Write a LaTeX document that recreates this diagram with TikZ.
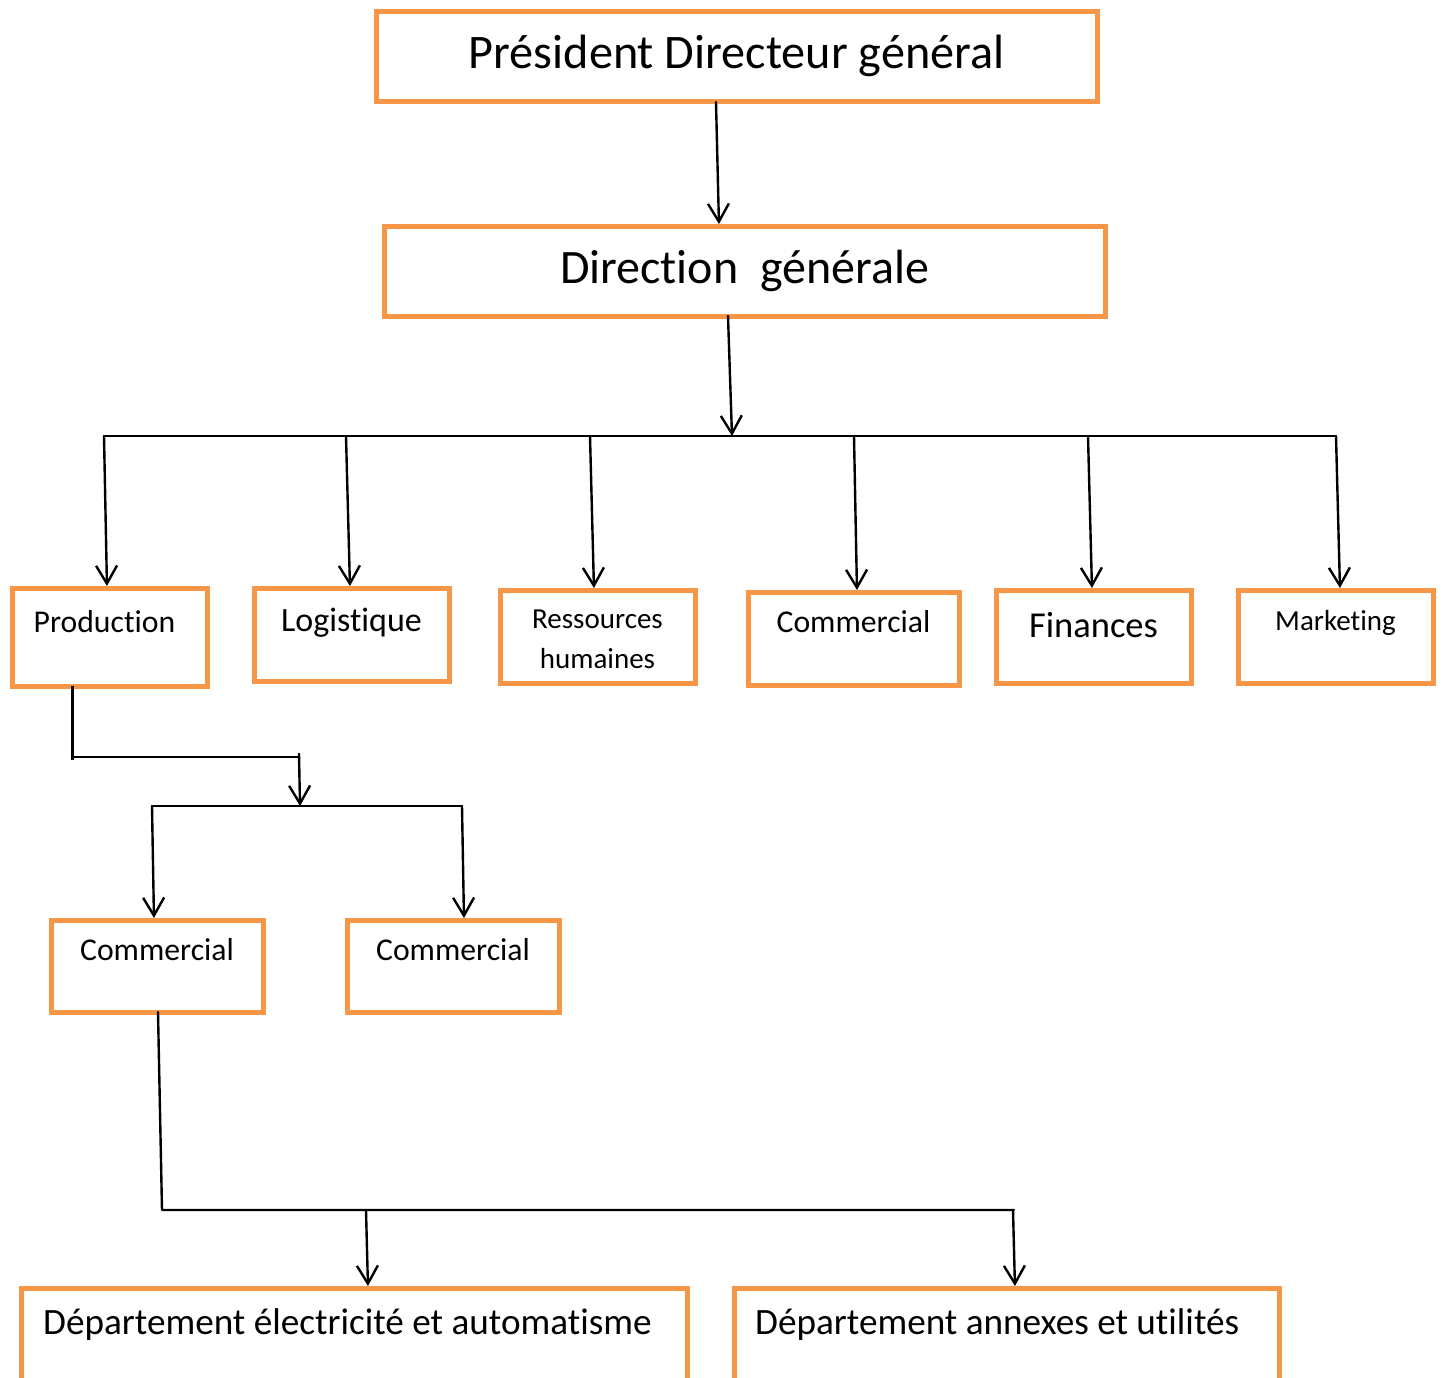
\documentclass[tikz,border=0pt]{standalone}
\usepackage{fontspec}
\setmainfont{Carlito}[Ligatures=NoCommon, Contextuals=NoAlternate, RawFeature={-clig;-dlig}]
\usetikzlibrary{arrows.meta}
\definecolor{boxorange}{HTML}{F79646}
\tikzset{
  box/.style={rectangle, draw=boxorange, line width=5pt, fill=white,
    inner sep=0pt, outer sep=0pt},
  conn/.style={line width=2.4pt, line cap=round, line join=round},
  arr/.style={conn, shorten >=2pt,
    -{Straight Barb[length=18pt,width=21pt,line width=2.4pt]}},
  txt/.style={anchor=base, inner sep=0pt},
}
\newcommand{\fs}[1]{\fontsize{#1}{#1}\selectfont}
\begin{document}
\begin{tikzpicture}[x=1pt,y=-1pt]
\useasboundingbox (0,0) rectangle (1444,1378);
\fill[white] (0,0) rectangle (1444,1378);
\clip (0,0) rectangle (1444,1378);

% top management
\node[box, minimum width=721pt, minimum height=90pt,
  label={[txt, font=\fs{48.2}, yshift=-57pt]north:Président Directeur général}]
  (pdg) at (736.5,57) {};
\node[box, minimum width=721pt, minimum height=90pt,
  label={[txt, font=\fs{48}, yshift=-57pt]north:Direction\ \ générale}]
  (dg) at (744.5,271) {};

% departments
\node[box, minimum width=195pt, minimum height=98pt,
  label={[txt, font=\fs{31.7}, xshift=-5pt, yshift=-44pt]north:Production}]
  (prod) at (109.5,637) {};
\node[box, minimum width=195pt, minimum height=93pt,
  label={[txt, font=\fs{34}, yshift=-43pt]north:Logistique}]
  (log) at (351.5,634.5) {};
\node[box, minimum width=195pt, minimum height=93pt,
  label={[txt, font=\fs{29}, yshift=-38pt]north:Ressources},
  label={[txt, font=\fs{29}, yshift=-78pt]north:humaines}]
  (rh) at (597.5,636.5) {};
\node[box, minimum width=211pt, minimum height=93pt,
  label={[txt, font=\fs{31.7}, yshift=-40pt]north:Commercial}]
  (com) at (853.5,638.5) {};
\node[box, minimum width=195pt, minimum height=93pt,
  label={[txt, font=\fs{36.5}, yshift=-47pt]north:Finances}]
  (fin) at (1093.5,636.5) {};
\node[box, minimum width=195pt, minimum height=93pt,
  label={[txt, font=\fs{29}, yshift=-40pt]north:Marketing}]
  (mkt) at (1335.5,636.5) {};

% second level
\node[box, minimum width=212pt, minimum height=92pt,
  label={[txt, font=\fs{31.7}, yshift=-40pt]north:Commercial}]
  (ca) at (157,966) {};
\node[box, minimum width=212pt, minimum height=92pt,
  label={[txt, font=\fs{31.7}, yshift=-40pt]north:Commercial}]
  (cb) at (453,966) {};

% third level
\node[box, minimum width=666pt, minimum height=132pt,
  label={[txt, anchor=base west, font=\fs{37.2}, xshift=22pt, yshift=-46pt]north west:Département électricité et automatisme}]
  (da) at (354,1354) {};
\node[box, minimum width=545pt, minimum height=132pt,
  label={[txt, anchor=base west, font=\fs{37.2}, xshift=21pt, yshift=-46pt]north west:Département annexes et utilités}]
  (db) at (1006.5,1354) {};

% junction points
\coordinate (bus) at (732,436);
\coordinate (b1) at (104,436);
\coordinate (b2) at (346,436);
\coordinate (b3) at (590,436);
\coordinate (b4) at (854,436);
\coordinate (b5) at (1088,436);
\coordinate (b6) at (1336,436);
\coordinate (p1) at (72,760);
\coordinate (p2) at (72,757);
\coordinate (p3) at (299,757);
\coordinate (p4) at (299,754);
\coordinate (s0) at (300,806);
\coordinate (s1) at (152,806);
\coordinate (s2) at (462,806);
\coordinate (q1) at (162,1210);
\coordinate (q2) at (1014,1210);
\coordinate (q3) at (366,1210);
\coordinate (q4) at (1013,1210);

% connectors
\draw[arr] ([xshift=-20.5pt]pdg.south) -- ([xshift=-25.5pt]dg.north);
\draw[arr, shorten >=0pt] ([xshift=-16.5pt]dg.south) -- (bus);
\draw[conn] (b1) -- (b6);
\draw[arr] (b1) -- ([xshift=-2.5pt]prod.north);
\draw[arr] (b2) -- ([xshift=-1.5pt]log.north);
\draw[arr] (b3) -- ([xshift=-3.5pt]rh.north);
\draw[arr] (b4) -- ([xshift=3.5pt]com.north);
\draw[arr] (b5) -- ([xshift=-1.5pt]fin.north);
\draw[arr] (b6) -- ([xshift=4.5pt]mkt.north);

\draw[line width=3pt] ([xshift=-37.5pt]prod.south) -- (p1);
\draw[conn] (p2) -- (p3) -- (p4);
\draw[arr, shorten >=0pt] (p4) -- (s0);
\draw[conn] (s1) -- (s2);
\draw[arr] (s1) -- ([xshift=-3pt]ca.north);
\draw[arr] (s2) -- ([xshift=11pt]cb.north);

\draw[conn] ([xshift=1pt]ca.south) -- (q1) -- (q2);
\draw[arr] (q3) -- ([xshift=14pt]da.north);
\draw[arr] (q4) -- ([xshift=8.5pt]db.north);
\end{tikzpicture}
\end{document}
